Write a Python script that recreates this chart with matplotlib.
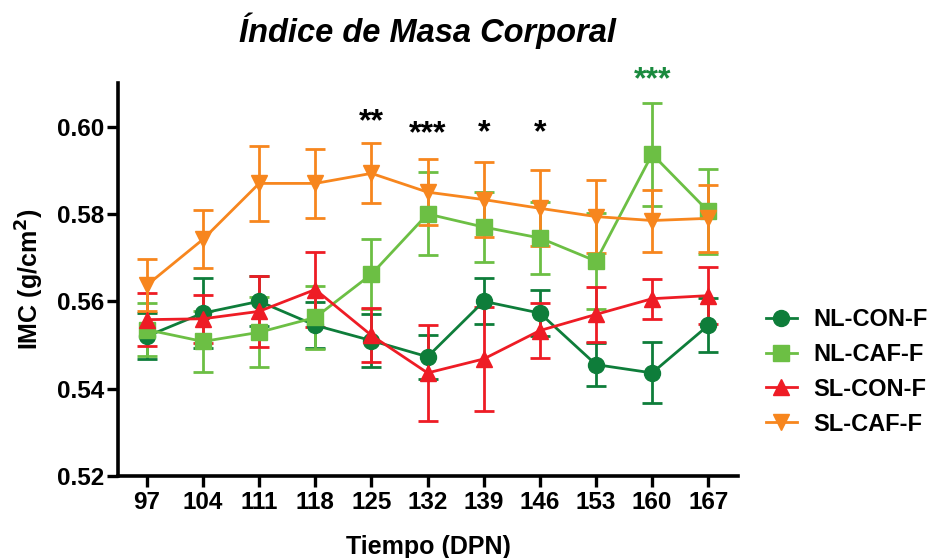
import matplotlib
matplotlib.use("Agg")
import matplotlib.pyplot as plt
from matplotlib.lines import Line2D

plt.rcParams['font.family'] = ['Liberation Sans', 'DejaVu Sans']

# Días postnatales
dias = [97, 104, 111, 118, 125, 132, 139, 146, 153, 160, 167]

# Media y error estándar del IMC (g/cm^2) por grupo
nl_con_f = [0.5520, 0.5573, 0.5600, 0.5545, 0.5510, 0.5473, 0.5600, 0.5573, 0.5455, 0.5436, 0.5545]
nl_con_f_err = [0.0053, 0.0080, 0.0057, 0.0053, 0.0060, 0.0050, 0.0053, 0.0053, 0.0050, 0.0070, 0.0062]

nl_caf_f = [0.5535, 0.5508, 0.5529, 0.5563, 0.5662, 0.5800, 0.5770, 0.5745, 0.5692, 0.5937, 0.5806]
nl_caf_f_err = [0.0060, 0.0069, 0.0080, 0.0072, 0.0080, 0.0095, 0.0080, 0.0083, 0.0110, 0.0118, 0.0097]

sl_con_f = [0.5558, 0.5560, 0.5577, 0.5627, 0.5522, 0.5436, 0.5468, 0.5533, 0.5570, 0.5606, 0.5613]
sl_con_f_err = [0.0060, 0.0055, 0.0081, 0.0085, 0.0062, 0.0110, 0.0120, 0.0063, 0.0063, 0.0046, 0.0065]

sl_caf_f = [0.5637, 0.5742, 0.5870, 0.5870, 0.5893, 0.5850, 0.5833, 0.5813, 0.5794, 0.5785, 0.5790]
sl_caf_f_err = [0.0060, 0.0066, 0.0085, 0.0079, 0.0069, 0.0076, 0.0085, 0.0087, 0.0083, 0.0071, 0.0077]

etiquetas = ['NL-CON-F', 'NL-CAF-F', 'SL-CON-F', 'SL-CAF-F']

# Marcas de significancia: (día, texto, valor y, color)
sig_dias = [125, 132, 139, 146, 160]
sig_textos = ['**', '***', '*', '*', '***']
sig_y = [0.6009, 0.5982, 0.5986, 0.5986, 0.6106]
sig_colores = ['black', 'black', 'black', 'black', '#1a8a3e']

col_nlcon = '#0e7d3a'
col_nlcaf = '#6cbf44'
col_slcon = '#ee1c25'
col_slcaf = '#f7861e'

fig = plt.figure(figsize=(9.27, 5.58), dpi=100)
ax = fig.add_axes([0.1273, 0.1470, 0.6688, 0.7043])

series = [
    (nl_con_f, nl_con_f_err, col_nlcon, 'o', 11.5),
    (nl_caf_f, nl_caf_f_err, col_nlcaf, 's', 11),
    (sl_con_f, sl_con_f_err, col_slcon, '^', 11.5),
    (sl_caf_f, sl_caf_f_err, col_slcaf, 'v', 11.5),
]

handles = []
for (vals, errs, col, mk, ms), lab in zip(series, etiquetas):
    ax.errorbar(dias, vals, yerr=errs, color=col, marker=mk, markersize=ms,
                linewidth=2.0, elinewidth=2.0, capsize=7, capthick=2.0,
                clip_on=False, zorder=3)
    handles.append(Line2D([0], [0], color=col, marker=mk, markersize=ms,
                          linewidth=2.0))

for d, t, yv, c in zip(sig_dias, sig_textos, sig_y, sig_colores):
    ax.text(d, yv, t, ha='center', va='center', fontsize=23,
            fontweight='bold', color=c)

ax.set_xlim(93.4, 170.7)
ax.set_ylim(0.52, 0.61)
ax.set_xticks(dias)
ax.set_yticks([0.52, 0.54, 0.56, 0.58, 0.60])
ax.set_yticklabels(['0.52', '0.54', '0.56', '0.58', '0.60'])

for s in ['top', 'right']:
    ax.spines[s].set_visible(False)
for s in ['left', 'bottom']:
    ax.spines[s].set_linewidth(2.6)

ax.tick_params(axis='both', which='major', direction='out', length=8,
               width=2.4, labelsize=17.5)
ax.tick_params(axis='x', pad=3)
ax.tick_params(axis='y', pad=2)
for lbl in ax.get_xticklabels() + ax.get_yticklabels():
    lbl.set_fontweight('bold')

ax.set_xlabel('Tiempo (DPN)', fontsize=18, fontweight='bold', labelpad=15)
ax.set_ylabel('IMC (g/cm$^\\mathbf{2}$)', fontsize=18, fontweight='bold', labelpad=8)

fig.text(0.461, 0.945, 'Índice de Masa Corporal', ha='center', va='center',
         fontsize=23.5, fontweight='bold', fontstyle='italic')

leg = ax.legend(handles, etiquetas, loc='center left', bbox_to_anchor=(1.011, 0.265),
                frameon=False, fontsize=17, handlelength=1.3, labelspacing=0.5,
                handletextpad=0.7)
for t in leg.get_texts():
    t.set_fontweight('bold')

fig.savefig('out.png', dpi=100)
